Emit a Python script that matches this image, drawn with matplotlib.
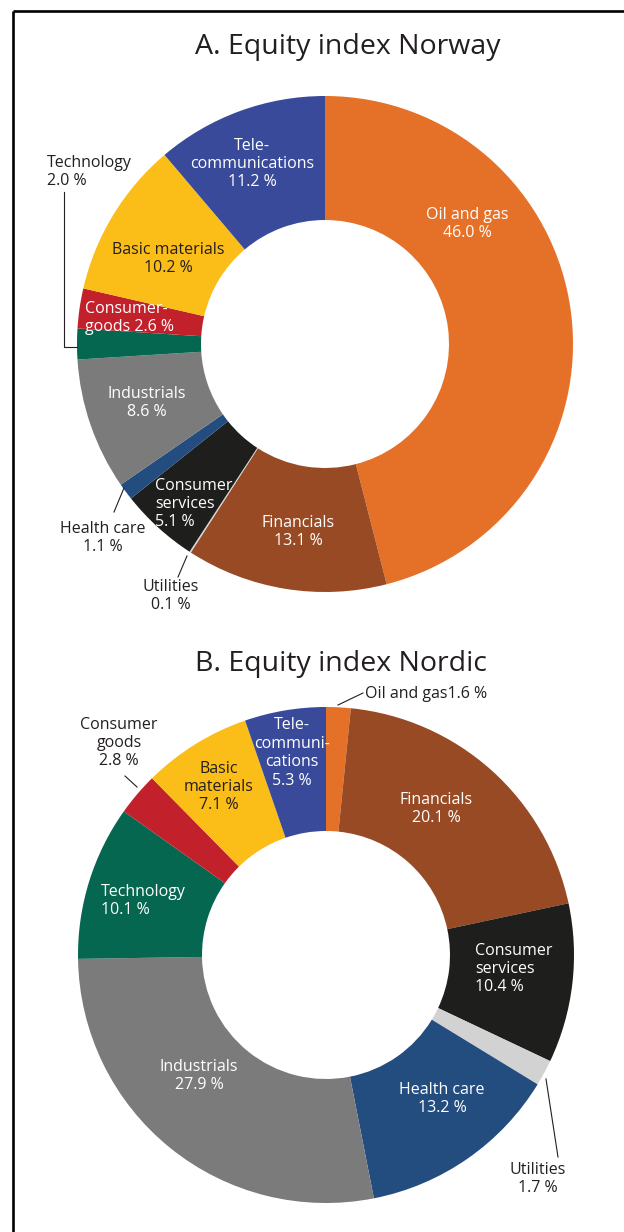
# Equity index sector weights, Norway vs Nordic
import matplotlib.pyplot as plt
from matplotlib.lines import Line2D

# ==========================================================
# DATA
# ==========================================================

norway_sectors = [
    "Oil and gas", "Financials", "Utilities", "Consumer services",
    "Health care", "Industrials", "Technology", "Consumer goods",
    "Basic materials", "Telecommunications",
]
norway_values = [46.0, 13.1, 0.1, 5.1, 1.1, 8.6, 2.0, 2.6, 10.2, 11.2]
norway_names = [
    "Oil and gas", "Financials", "Utilities", "Consumer\nservices",
    "Health care", "Industrials", "Technology", "Consumer-\ngoods",
    "Basic materials", "Tele-\ncommunications",
]

nordic_sectors = [
    "Oil and gas", "Financials", "Consumer services", "Utilities",
    "Health care", "Industrials", "Technology", "Consumer goods",
    "Basic materials", "Telecommunications",
]
nordic_values = [1.6, 20.1, 10.4, 1.7, 13.2, 27.9, 10.1, 2.8, 7.1, 5.3]
nordic_names = [
    "Oil and gas", "Financials", "Consumer\nservices", "Utilities",
    "Health care", "Industrials", "Technology", "Consumer\ngoods",
    "Basic\nmaterials", "Tele-\ncommuni-\ncations",
]

titles = ["A. Equity index Norway", "B. Equity index Nordic"]

# ==========================================================
# STYLE
# ==========================================================

sector_colors = {
    "Oil and gas": "#E57027",
    "Financials": "#984A24",
    "Utilities": "#D2D2D2",
    "Consumer services": "#1E1E1C",
    "Health care": "#234C7F",
    "Industrials": "#7B7B7B",
    "Technology": "#05674F",
    "Consumer goods": "#C2212B",
    "Basic materials": "#FBBD18",
    "Telecommunications": "#394A9B",
}

DARK = "#231F20"
W, H = 624, 1232
R = 248

plt.rcParams["font.family"] = ["Open Sans", "DejaVu Sans"]

fig = plt.figure(figsize=(W / 100, H / 100), dpi=100)
ax = fig.add_axes([0, 0, 1, 1])

# frame (top and left only)
ax.plot([13, W], [10.5, 10.5], color="black", lw=1.9, solid_capstyle="butt")
ax.plot([13, 13], [10.5, H], color="black", lw=1.9, solid_capstyle="butt")

# ==========================================================
# DONUTS
# ==========================================================

centers = [(325, 344), (326, 955)]
title_pos = [(348, 47), (341, 664)]

for (cx, cy), sectors, values in zip(
    centers, [norway_sectors, nordic_sectors], [norway_values, nordic_values]
):
    # y axis is inverted below, so counterclock=True runs clockwise on screen
    ax.pie(
        values,
        colors=[sector_colors[s] for s in sectors],
        center=(cx, cy),
        radius=R,
        startangle=-90,
        counterclock=True,
        wedgeprops=dict(width=R * 0.5, edgecolor="none"),
        frame=True,
    )

ax.set_xlim(0, W)
ax.set_ylim(H, 0)
ax.set_aspect("equal")
ax.axis("off")

for t, (x, y) in zip(titles, title_pos):
    ax.text(x, y, t, ha="center", va="center", fontsize=20.5, color=DARK)

# ==========================================================
# LABELS
# ==========================================================

FS = 11.5


def label(x, y, name, value, color="white", ha="center", sep="\n"):
    ax.text(
        x, y, f"{name}{sep}{value:.1f} %",
        ha=ha, va="center", ma=ha, fontsize=FS, color=color,
        linespacing=1.2,
    )


# Norway label positions, one per sector
norway_pos = [
    (467, 224, "white", "center", "\n"),
    (298, 532, "white", "center", "\n"),
    (171, 596, DARK, "center", "\n"),
    (155, 504, "white", "left", "\n"),
    (103, 538, DARK, "center", "\n"),
    (147, 403, "white", "center", "\n"),
    (47, 172, DARK, "left", "\n"),
    (85, 318, "white", "left", " "),
    (168, 259, DARK, "center", "\n"),
    (252, 164, "white", "center", "\n"),
]
for name, v, (x, y, c, ha, sep) in zip(norway_names, norway_values, norway_pos):
    label(x, y, name, v, color=c, ha=ha, sep=sep)

nordic_pos = [
    (365, 694, DARK, "left", ""),
    (436, 809, "white", "center", "\n"),
    (475, 969, "white", "left", "\n"),
    (538, 1179, DARK, "center", "\n"),
    (442, 1099, "white", "center", "\n"),
    (199, 1076, "white", "center", "\n"),
    (101, 901, "white", "left", "\n"),
    (119, 743, DARK, "center", "\n"),
    (219, 787, DARK, "center", "\n"),
    (292, 753, "white", "center", "\n"),
]
for name, v, (x, y, c, ha, sep) in zip(nordic_names, nordic_values, nordic_pos):
    label(x, y, name, v, color=c, ha=ha, sep=sep)

# leader lines
leaders = [
    ([64, 64, 77], [192, 347, 347]),
    ([114, 124], [512, 488]),
    ([178, 187], [577, 556]),
    ([338, 363], [705, 693]),
    ([125, 137], [776, 787]),
    ([546, 558], [1079, 1157]),
]
for xs, ys in leaders:
    ax.add_line(Line2D(xs, ys, color=DARK, lw=0.8))

fig.savefig("out.png", dpi=100)
